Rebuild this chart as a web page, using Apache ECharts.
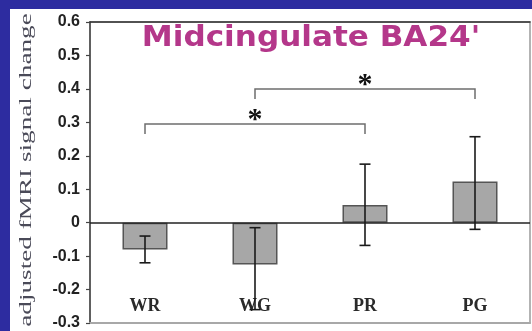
<!DOCTYPE html>
<html>
<head>
<meta charset="utf-8">
<script src="https://cdn.jsdelivr.net/npm/echarts@6/dist/echarts.min.js"></script>
<style>
  html, body { margin: 0; padding: 0; background: #2d2ca0; }
  #chart { width: 532px; height: 331px; }
</style>
</head>
<body>
<div id="chart"></div>
<script>
// Conditions and mean adjusted signal change
const categories = ['WR', 'WG', 'PR', 'PG'];
const means = [-0.08, -0.125, 0.053, 0.123];
// Error bar ends (upper / lower)
const errUpper = [-0.04, -0.015, 0.175, 0.257];
const errLower = [-0.12, -0.26, -0.068, -0.02];
// Significance brackets: from category, to category, bracket height
const bracketFrom = [0, 1];
const bracketTo = [2, 3];
const bracketLevel = [0.295, 0.40];
const bracketMark = ['*', '*'];
// Axis
const yMin = -0.3, yMax = 0.6, yStep = 0.1;
const titleText = "Midcingulate BA24'";
const yTitle = 'adjusted fMRI signal change';

const chart = echarts.init(document.getElementById('chart'), null, { renderer: 'canvas' });

const errData = categories.map((c, i) => [i, errUpper[i], errLower[i]]);
const bracketData = bracketFrom.map((f, i) => [f, bracketTo[i], bracketLevel[i], bracketMark[i]]);

chart.setOption({
  backgroundColor: '#2d2ca0',
  animation: false,
  graphic: [
    { type: 'rect', z: -100, shape: { x: 10, y: 9, width: 522, height: 322 }, style: { fill: '#ffffff' } },
    {
      type: 'text', z: 100, x: 311, y: 39, scaleX: 1.11,
      style: {
        text: titleText, font: 'bold 28px "DejaVu Sans"', fill: '#b4378a',
        align: 'center', verticalAlign: 'middle'
      }
    },
    {
      type: 'text', z: 100, x: 27, y: 170, rotation: Math.PI / 2, scaleX: 1.6,
      style: {
        text: yTitle, font: '17px "Liberation Serif"', fill: '#4a4a58',
        align: 'center', verticalAlign: 'middle'
      }
    }
  ],
  grid: {
    left: 90, top: 22, right: 2, bottom: 8,
    show: true, borderColor: '#9a9a9a', borderWidth: 1.5, backgroundColor: 'transparent'
  },
  xAxis: [
    {
      type: 'category', data: categories, position: 'bottom',
      axisLine: { onZero: false, lineStyle: { color: '#a8a8a8', width: 2 } },
      axisTick: { show: false },
      axisLabel: {
        inside: true, margin: 8, color: '#2a2a2a',
        fontFamily: 'Liberation Serif', fontWeight: 'bold', fontSize: 18
      }
    },
    {
      type: 'category', data: categories, position: 'top',
      axisLine: { onZero: false, lineStyle: { color: '#333', width: 1.5 } },
      axisTick: { show: false }, axisLabel: { show: false }
    }
  ],
  yAxis: {
    type: 'value', min: yMin, max: yMax, interval: yStep,
    axisLine: { show: true, lineStyle: { color: '#444', width: 1.5 } },
    axisTick: { show: true, length: 4, lineStyle: { color: '#444', width: 1.2 } },
    splitLine: { show: false },
    axisLabel: {
      margin: 10, color: '#222', fontFamily: 'Liberation Sans', fontWeight: 'bold', fontSize: 16,
      formatter: v => (Math.abs(v) < 1e-9 ? '0' : (+v).toFixed(1))
    }
  },
  series: [
    {
      type: 'bar', data: means, barWidth: 45,
      itemStyle: { color: '#a7a7a7', borderColor: '#555', borderWidth: 1.5 },
      markLine: {
        silent: true, symbol: 'none', label: { show: false },
        lineStyle: { color: '#222', width: 1.5, type: 'solid' },
        data: [{ yAxis: 0 }]
      }
    },
    {
      type: 'custom', data: errData, z: 5,
      renderItem: (params, api) => {
        const top = api.coord([api.value(0), api.value(1)]);
        const bot = api.coord([api.value(0), api.value(2)]);
        const hw = 5.5;
        const st = { stroke: '#1a1a1a', lineWidth: 1.6 };
        return {
          type: 'group', children: [
            { type: 'line', shape: { x1: top[0], y1: top[1], x2: bot[0], y2: bot[1] }, style: st },
            { type: 'line', shape: { x1: top[0] - hw, y1: top[1], x2: top[0] + hw, y2: top[1] }, style: st },
            { type: 'line', shape: { x1: bot[0] - hw, y1: bot[1], x2: bot[0] + hw, y2: bot[1] }, style: st }
          ]
        };
      }
    },
    {
      type: 'custom', data: bracketData, z: 5,
      renderItem: (params, api) => {
        const a = api.coord([api.value(0), api.value(2)]);
        const b = api.coord([api.value(1), api.value(2)]);
        const drop = api.size([0, 0.03])[1];
        const st = { stroke: '#6e6e6e', lineWidth: 1.5, fill: null };
        return {
          type: 'group', children: [
            { type: 'polyline', shape: { points: [[a[0], a[1] + drop], [a[0], a[1]], [b[0], b[1]], [b[0], b[1] + drop]] }, style: st },
            {
              type: 'text', x: (a[0] + b[0]) / 2, y: a[1] - 4,
              style: {
                text: bracketMark[params.dataIndex], font: 'bold 30px "Liberation Serif"', fill: '#111',
                align: 'center', verticalAlign: 'middle'
              }
            }
          ]
        };
      }
    }
  ]
});
</script>
</body>
</html>
